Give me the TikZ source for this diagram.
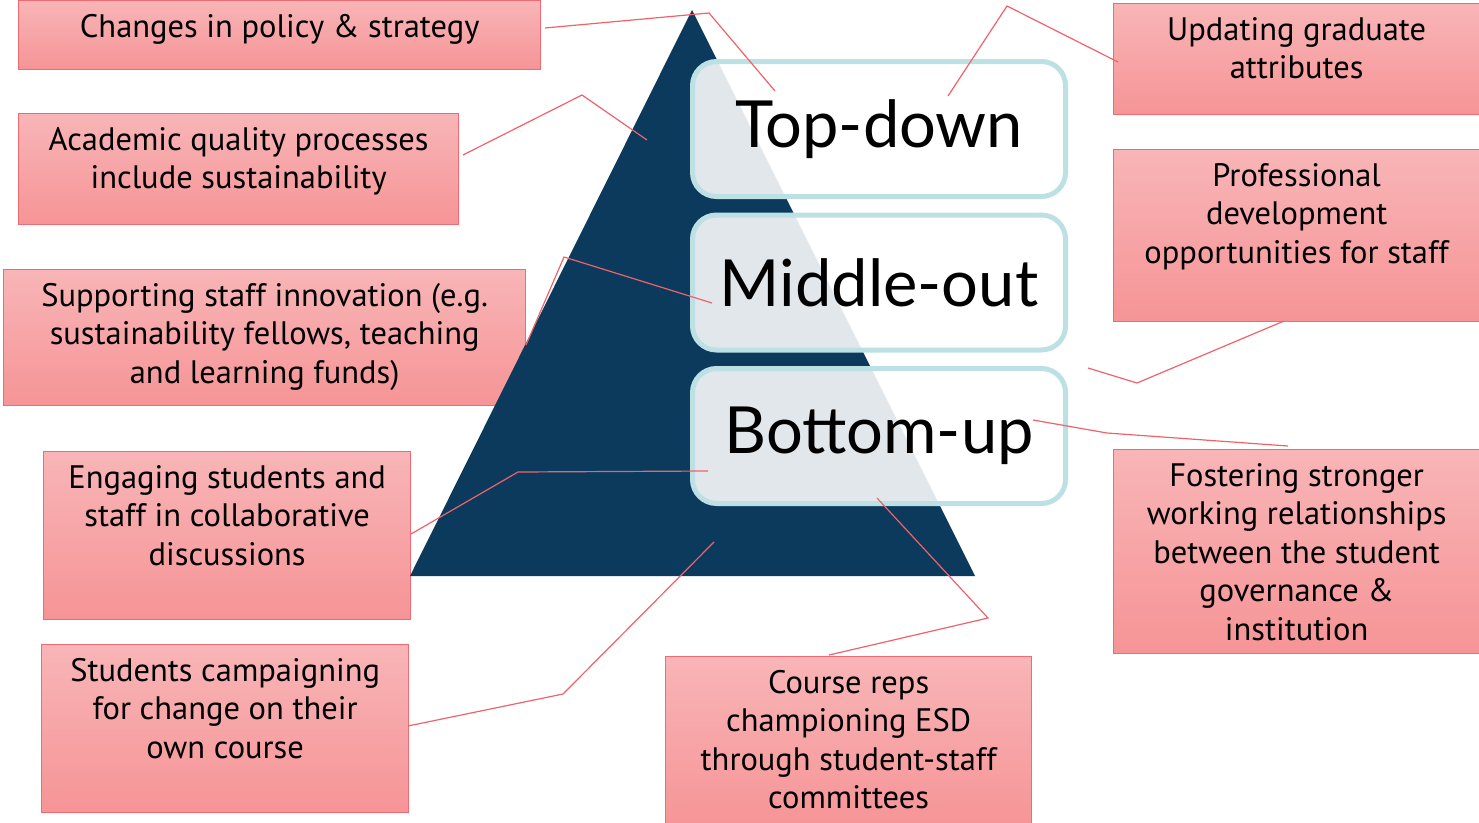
\documentclass[tikz,border=0pt]{standalone}
\usepackage{fontspec}
\setmainfont{PT Sans}
\newfontfamily\bigfont{Lato}
\usetikzlibrary{positioning}

\definecolor{navy}{HTML}{0B3A5D}
\definecolor{rimblue}{HTML}{BDE0E4}
\definecolor{pinktop}{HTML}{F8B5B7}
\definecolor{pinkbot}{HTML}{F69496}
\definecolor{pinkrim}{HTML}{EF6B73}
\definecolor{linkred}{HTML}{F0626A}

\tikzset{
  pinkbox/.style={draw=pinkrim, line width=1.3pt, top color=pinktop, bottom color=pinkbot,
    anchor=north west, inner sep=0pt},
  boxtext/.style={anchor=north, align=center, inner sep=0pt,
    font=\fontsize{32.5}{38.5}\selectfont},
  level/.style={draw=rimblue, line width=5pt, rounded corners=24pt, fill=white,
    fill opacity=0.88, text opacity=1, minimum width=373pt, minimum height=135pt,
    font=\bigfont\fontsize{65}{78}\selectfont},
  link/.style={draw=linkred, line width=1.2pt}
}

\begin{document}
\begin{tikzpicture}[x=1pt, y=-1pt]
	\useasboundingbox (0,0) rectangle (1479,822);

	% boxes on the left
	\node[pinkbox, minimum width=522pt, minimum height=69pt] (pol) at (18,0) {};
	\node[pinkbox, minimum width=440pt, minimum height=111pt] (acq) at (18,113) {};
	\node[pinkbox, minimum width=522pt, minimum height=136pt] (inn) at (3,269) {};
	\node[pinkbox, minimum width=367pt, minimum height=168pt] (eng) at (43,451) {};
	\node[pinkbox, minimum width=367pt, minimum height=168pt] (cam) at (41,644) {};
	% bottom and right
	\node[pinkbox, minimum width=366pt, minimum height=172pt] (rep) at (665,656) {};
	\node[pinkbox, minimum width=366pt, minimum height=111pt] (upd) at (1113,3) {};
	\node[pinkbox, minimum width=366pt, minimum height=172pt] (pro) at (1113,149) {};
	\node[pinkbox, minimum width=366pt, minimum height=204pt] (fos) at (1113,449) {};

	\node[boxtext, below=14pt of pol.north] (polt) {Changes in policy \& strategy};
	\node[boxtext, below=14pt of acq.north] (acqt) {Academic quality processes\\include sustainability};
	\node[boxtext, below=14pt of inn.north] (innt) {Supporting staff innovation (e.g.\\sustainability fellows, teaching\\and learning funds)};
	\node[boxtext, below=14pt of eng.north] (engt) {Engaging students and\\staff in collaborative\\discussions};
	\node[boxtext, below=14pt of cam.north] (camt) {Students campaigning\\for change on their\\own course};
	\node[boxtext, below=14pt of rep.north] (rept) {Course reps\\championing ESD\\through student-staff\\committees};
	\node[boxtext, below=14pt of upd.north] (updt) {Updating graduate\\attributes};
	\node[boxtext, below=14pt of pro.north] (prot) {Professional\\development\\opportunities for staff};
	\node[boxtext, below=14pt of fos.north] (fost) {Fostering stronger\\working relationships\\between the student\\governance \&\\institution};

	% pyramid
	\fill[navy] (692,10) -- (975,576) -- (410,576) -- cycle;

	\node[level] (top) at (879,129) {Top-down};
	\node[level] (mid) at (879,282.5) {Middle-out};
	\node[level] (bot) at (879,436) {Bottom-up};

	% connectors
	\coordinate (p1) at (545,28);   \coordinate (q1) at (709,13);  \coordinate (e1) at (775,91);
	\coordinate (p2) at (463,155);  \coordinate (q2) at (582,95);  \coordinate (e2) at (647,140);
	\coordinate (p3) at (526,345);  \coordinate (q3) at (564,257); \coordinate (e3) at (712,303);
	\coordinate (p4) at (411,534);  \coordinate (q4) at (518,472); \coordinate (e4) at (708,471);
	\coordinate (p5) at (408,726);  \coordinate (q5) at (563,694); \coordinate (e5) at (714,542);
	\coordinate (p6) at (829,655);  \coordinate (q6) at (988,618); \coordinate (e6) at (877,498);
	\coordinate (p7) at (1288,446); \coordinate (q7) at (1107,433); \coordinate (e7) at (1033,420);
	\coordinate (p8) at (1284,321); \coordinate (q8) at (1137,383); \coordinate (e8) at (1088,368);
	\coordinate (p9) at (1118,62);  \coordinate (q9) at (1007,6);  \coordinate (e9) at (948,96);

	\foreach \i in {1,...,9}
		\draw[link] (p\i) -- (q\i) -- (e\i);
\end{tikzpicture}
\end{document}
